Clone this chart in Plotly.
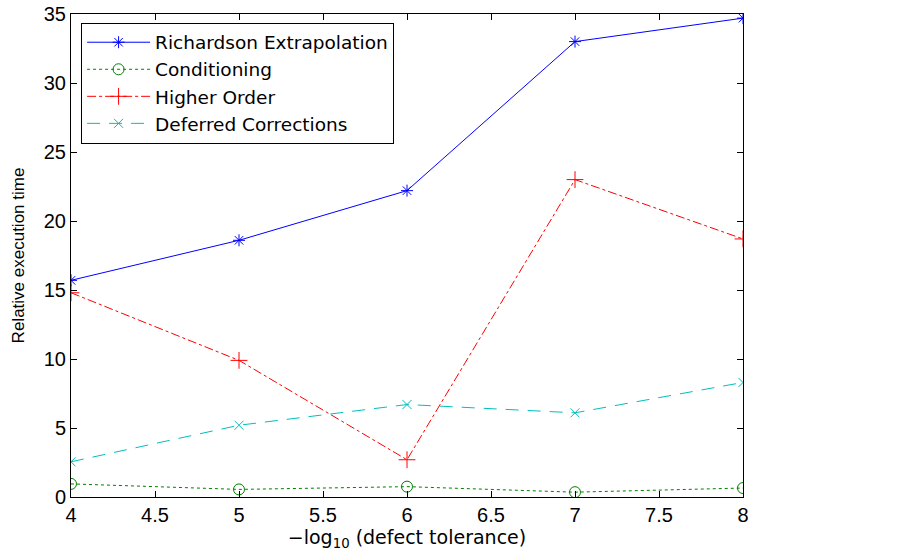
import plotly.graph_objects as go

x_vals = [4, 5, 6, 7, 8]
richardson = [15.7, 18.6, 22.2, 33.0, 34.7]
conditioning = [0.95, 0.55, 0.75, 0.35, 0.65]
higher_order = [14.8, 9.9, 2.7, 23.0, 18.7]
deferred = [2.55, 5.2, 6.7, 6.1, 8.3]

x_ticks = [4, 4.5, 5, 5.5, 6, 6.5, 7, 7.5, 8]
y_ticks = [0, 5, 10, 15, 20, 25, 30, 35]

tick_font = "Liberation Sans, Arial, sans-serif"
wide_font = "DejaVu Sans, sans-serif"

fig = go.Figure()
fig.add_trace(go.Scatter(x=x_vals, y=richardson, name="Richardson Extrapolation",
                         mode="lines+markers",
                         line=dict(color="rgb(0,0,255)", width=1, dash="solid"),
                         marker=dict(symbol="asterisk-open", size=10,
                                     line=dict(color="rgb(0,0,255)", width=1))))
fig.add_trace(go.Scatter(x=x_vals, y=conditioning, name="Conditioning",
                         mode="lines+markers",
                         line=dict(color="rgb(0,128,0)", width=1, dash="dot"),
                         marker=dict(symbol="circle-open", size=11,
                                     color="rgb(0,128,0)",
                                     line=dict(color="rgb(0,128,0)", width=1))))
fig.add_trace(go.Scatter(x=x_vals, y=higher_order, name="Higher Order",
                         mode="lines+markers",
                         line=dict(color="rgb(255,0,0)", width=1, dash="dashdot"),
                         marker=dict(symbol="cross-thin-open", size=12,
                                     line=dict(color="rgb(255,0,0)", width=1))))
fig.add_trace(go.Scatter(x=x_vals, y=deferred, name="Deferred Corrections",
                         mode="lines+markers",
                         line=dict(color="rgb(0,191,191)", width=1, dash="13px,9px"),
                         marker=dict(symbol="x-thin-open", size=9,
                                     line=dict(color="rgb(0,191,191)", width=1))))

axis_common = dict(showline=True, linecolor="black", linewidth=1, mirror="ticks",
                   ticks="inside", ticklen=6, tickcolor="black", showgrid=False,
                   zeroline=False, automargin=False,
                   tickfont=dict(family=tick_font, size=20, color="black"))

fig.update_layout(
    width=911, height=552,
    margin=dict(l=71, r=168, t=14, b=55),
    paper_bgcolor="white", plot_bgcolor="white",
    font=dict(family=tick_font, size=17, color="black"),
    showlegend=True,
    legend=dict(x=0.015, y=0.982, xanchor="left", yanchor="top",
                bgcolor="white", bordercolor="black", borderwidth=1,
                font=dict(family=wide_font, size=18.5, color="black"),
                tracegroupgap=0, itemwidth=63),
    xaxis=dict(range=[4, 8], tickvals=x_ticks,
               ticktext=[("%g" % v) for v in x_ticks],
               title=dict(text="\u2212log<sub>10</sub> (defect tolerance)",
                          font=dict(family=wide_font, size=19), standoff=0),
               **axis_common),
    yaxis=dict(range=[0, 35], tickvals=y_ticks,
               title=dict(text="Relative execution time",
                          font=dict(family=tick_font, size=17), standoff=14),
               **axis_common),
)

fig.write_html("out.html",
               config={"displayModeBar": False},
               post_script="document.body.style.margin='0';document.body.style.padding='0';")
